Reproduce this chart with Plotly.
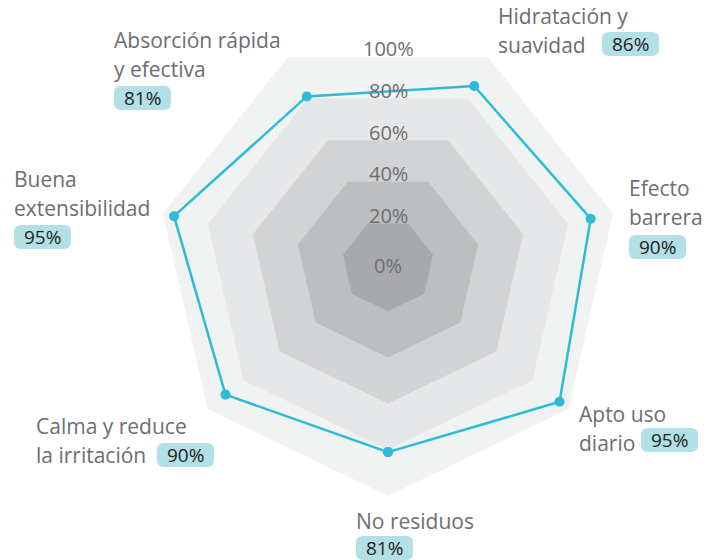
import math
import plotly.graph_objects as go

# ---- data ----
categories = ["No residuos", "Apto uso diario", "Efecto barrera", "Hidratación y suavidad",
              "Absorción rápida y efectiva", "Buena extensibilidad", "Calma y reduce la irritación"]
label_lines = [["No residuos"], ["Apto uso", "diario"], ["Efecto", "barrera"],
               ["Hidratación y", "suavidad"], ["Absorción rápida", "y efectiva"],
               ["Buena", "extensibilidad"], ["Calma y reduce", "la irritación"]]
values = [81, 95, 90, 86, 81, 95, 90]
grid_levels = [100, 80, 60, 40, 20]
grid_colors = ["#f1f2f2", "#e6e7e8", "#d1d3d4", "#bcbec0", "#a7a9ac"]
tick_levels = [0, 20, 40, 60, 80, 100]

W, H = 716, 560
CX, CY, R = 388, 265, 231

def px(x):
    return x / W

def py(y):
    return 1 - y / H

LINE = "#2cbcd8"
TXT = "#6d6e71"
BOX = "#b2e0e6"
FONT = "Open Sans"

fig = go.Figure()

for lvl, col in zip(grid_levels, grid_colors):
    fig.add_trace(go.Scatterpolar(
        r=[lvl] * (len(categories) + 1), theta=categories + categories[:1],
        mode="lines", fill="toself", fillcolor=col, line=dict(width=0, color=col),
        hoverinfo="skip", showlegend=False))

fig.add_trace(go.Scatterpolar(
    r=values + values[:1], theta=categories + categories[:1],
    mode="lines+markers", line=dict(color=LINE, width=2.5),
    marker=dict(color=LINE, size=10), showlegend=False))

annotations = []
shapes = []

# radial tick labels
for lvl in tick_levels:
    y = CY if lvl == 0 else CY - math.cos(math.pi / 7) * R * lvl / 100 - 8
    annotations.append(dict(x=px(CX), y=py(y), xref="paper", yref="paper",
                            text=f"{lvl}%", showarrow=False,
                            font=dict(family=FONT, size=20, color=TXT),
                            xanchor="center", yanchor="middle"))

# category label layout: (left x, first line y, box left x, box center y)
label_pos = [
    (356, 521, 356, 548),
    (579, 414, 641, 440),
    (629, 188, 629, 247),
    (498, 16, 602, 44),
    (114, 40, 114, 98),
    (14, 179, 14, 237),
    (36, 426, 157, 455),
]
LH = 28.5
BW, BH = 57, 24

def rrect(x0, y0, x1, y1, r):
    X = lambda v: px(v)
    Y = lambda v: py(v)
    return (f"M {X(x0 + r)} {Y(y0)} L {X(x1 - r)} {Y(y0)} Q {X(x1)} {Y(y0)} {X(x1)} {Y(y0 + r)} "
            f"L {X(x1)} {Y(y1 - r)} Q {X(x1)} {Y(y1)} {X(x1 - r)} {Y(y1)} "
            f"L {X(x0 + r)} {Y(y1)} Q {X(x0)} {Y(y1)} {X(x0)} {Y(y1 - r)} "
            f"L {X(x0)} {Y(y0 + r)} Q {X(x0)} {Y(y0)} {X(x0 + r)} {Y(y0)} Z")

for lines, val, (lx, ly, bx, by) in zip(label_lines, values, label_pos):
    for i, t in enumerate(lines):
        annotations.append(dict(x=px(lx), y=py(ly + i * LH), xref="paper", yref="paper",
                                text=t, showarrow=False, xanchor="left", yanchor="middle",
                                xshift=-2,
                                font=dict(family=FONT, size=21, color=TXT)))
    shapes.append(dict(type="path", xref="paper", yref="paper",
                       path=rrect(bx, by - BH / 2, bx + BW, by + BH / 2, 7),
                       fillcolor=BOX, line=dict(width=0), layer="above"))
    annotations.append(dict(x=px(bx + BW / 2), y=py(by), xref="paper", yref="paper",
                            text=f"{val}%", showarrow=False, xanchor="center", yanchor="middle",
                            font=dict(family=FONT, size=19, color="#231f20")))

fig.update_layout(
    width=W, height=H,
    margin=dict(l=0, r=0, t=0, b=0),
    paper_bgcolor="white", plot_bgcolor="white",
    polar=dict(
        domain=dict(x=[px(CX - R), px(CX + R)], y=[py(CY + R), py(CY - R)]),
        bgcolor="rgba(0,0,0,0)",
        gridshape="linear",
        angularaxis=dict(visible=False, direction="counterclockwise", rotation=270,
                         categoryorder="array", categoryarray=categories),
        radialaxis=dict(visible=False, range=[0, 100]),
    ),
    annotations=annotations,
    shapes=shapes,
)

fig.write_html("out.html", config={"displayModeBar": False},
               post_script="document.body.style.margin='0';document.body.style.overflow='hidden';")
